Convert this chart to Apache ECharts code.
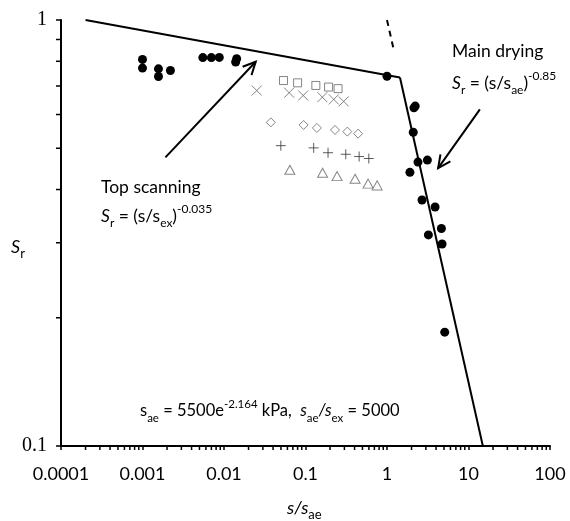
<!DOCTYPE html>
<html>
<head>
<meta charset="utf-8">
<script src="https://cdn.jsdelivr.net/npm/echarts@6/dist/echarts.min.js"></script>
<style>
html,body{margin:0;padding:0;background:#fff;}
#c{width:570px;height:521px;}
</style>
</head>
<body>
<div id="c"></div>
<script>
// ---- data ----
var xTickLabels = ['0.0001', '0.001', '0.01', '0.1', '1', '10', '100'];
var yTickLabels = ['0.1', '1'];

var dotsX = [0.001, 0.001, 0.00157, 0.00157, 0.0022, 0.0055, 0.0070, 0.00875, 0.0143, 0.0139,
             1.0, 2.14, 2.22, 2.10, 2.40, 3.13, 1.91, 2.69, 3.89, 4.65, 3.22, 4.74, 5.11];
var dotsY = [0.808, 0.771, 0.768, 0.737, 0.761, 0.816, 0.816, 0.817, 0.811, 0.797,
             0.738, 0.622, 0.628, 0.545, 0.464, 0.469, 0.439, 0.378, 0.364, 0.324, 0.313, 0.298, 0.185];

var squaresX = [0.0537, 0.080, 0.134, 0.192, 0.251];
var squaresY = [0.721, 0.712, 0.702, 0.696, 0.690];
var crossesX = [0.0252, 0.063, 0.0937, 0.161, 0.222, 0.294];
var crossesY = [0.683, 0.675, 0.665, 0.659, 0.651, 0.644];
var diamondsX = [0.0375, 0.0948, 0.138, 0.230, 0.326, 0.442];
var diamondsY = [0.575, 0.567, 0.558, 0.552, 0.547, 0.541];
var plusesX = [0.0498, 0.126, 0.189, 0.312, 0.455, 0.598];
var plusesY = [0.507, 0.501, 0.488, 0.484, 0.478, 0.473];
var trianglesX = [0.0643, 0.162, 0.244, 0.406, 0.586, 0.757];
var trianglesY = [0.445, 0.438, 0.430, 0.424, 0.413, 0.409];

var topScanX = [0.0002, 1.442];
var topScanY = [1.0, 0.733];
var mainDryX = [1.442, 15.0];
var mainDryY = [0.733, 0.1];
var mainDryDashX = [1.0, 1.22];
var mainDryDashY = [1.0, 0.845];

var minorMult = [2, 3, 4, 5, 6, 7, 8, 9];
var xDecades = [0.0001, 0.001, 0.01, 0.1, 1, 10];
var yDecades = [0.1];

// arrows in data coordinates (tail -> head)
var arrowTopX = [0.00191, 0.0245];
var arrowTopY = [0.476, 0.798];
var arrowMainX = [13.8, 4.24];
var arrowMainY = [0.617, 0.449];

function zip(xs, ys) { return xs.map(function (x, i) { return [x, ys[i]]; }); }

var xMinor = [];
xDecades.forEach(function (d) { minorMult.forEach(function (m) { xMinor.push([+(d * m).toPrecision(3), 0.1]); }); });
var yMinor = [];
yDecades.forEach(function (d) { minorMult.forEach(function (m) { yMinor.push([0.0001, +(d * m).toPrecision(3)]); }); });

var sansFont = 'Lato';
var markerGray = '#666666';

var chart = echarts.init(document.getElementById('c'), null, {renderer: 'canvas'});

function plusPath() { return 'path://M5,0L5,10M0,5L10,5'; }

var option = {
  animation: false,
  backgroundColor: '#ffffff',
  grid: {left: 61, right: 20, top: 20, bottom: 75, containLabel: false},
  xAxis: {
    type: 'log', logBase: 10, min: 0.0001, max: 100,
    axisLine: {show: true, lineStyle: {color: '#000', width: 2}},
    axisTick: {show: true, inside: false, length: 4, lineStyle: {color: '#000', width: 1.5}},
    axisLabel: {
      margin: 19, color: '#000', fontFamily: sansFont, fontSize: 18,
      formatter: function (v, i) { return xTickLabels[i]; }
    },
    splitLine: {show: false},
    minorTick: {show: false}
  },
  yAxis: {
    type: 'log', logBase: 10, min: 0.1, max: 1,
    axisLine: {show: true, lineStyle: {color: '#000', width: 2}},
    axisTick: {show: true, inside: false, length: 5, lineStyle: {color: '#000', width: 1.5}},
    axisLabel: {
      margin: 14, color: '#000', fontFamily: 'Liberation Serif', fontSize: 20,
      formatter: function (v, i) { return yTickLabels[i]; }
    },
    splitLine: {show: false}
  },
  series: [
    {
      type: 'custom', name: 'xMinorTicks', silent: true, clip: false, z: 1,
      renderItem: function (params, api) {
        var p = api.coord([api.value(0), api.value(1)]);
        return {type: 'line', shape: {x1: p[0], y1: p[1], x2: p[0], y2: p[1] + 4},
                style: {stroke: '#000', lineWidth: 1.5}};
      },
      data: xMinor
    },
    {
      type: 'custom', name: 'yMinorTicks', silent: true, clip: false, z: 1,
      renderItem: function (params, api) {
        var p = api.coord([api.value(0), api.value(1)]);
        return {type: 'line', shape: {x1: p[0] - 5, y1: p[1], x2: p[0], y2: p[1]},
                style: {stroke: '#000', lineWidth: 1.5}};
      },
      data: yMinor
    },
    {
      type: 'line', name: 'Top scanning', data: zip(topScanX, topScanY), symbol: 'none',
      lineStyle: {color: '#000', width: 2}, z: 3
    },
    {
      type: 'line', name: 'Main drying', data: zip(mainDryX, mainDryY), symbol: 'none',
      lineStyle: {color: '#000', width: 2}, z: 3, clip: true
    },
    {
      type: 'line', name: 'Main drying ext', data: zip(mainDryDashX, mainDryDashY), symbol: 'none',
      lineStyle: {color: '#000', width: 2, type: [6, 5]}, z: 3
    },
    {
      type: 'scatter', name: 'squares', data: zip(squaresX, squaresY), symbol: 'rect', symbolSize: 8,
      itemStyle: {color: '#fff', borderColor: markerGray, borderWidth: 1}, z: 4
    },
    {
      type: 'scatter', name: 'crosses', data: zip(crossesX, crossesY),
      symbol: 'path://M0,0L10,10M10,0L0,10', symbolSize: 10,
      itemStyle: {color: 'none', borderColor: markerGray, borderWidth: 1}, z: 4
    },
    {
      type: 'scatter', name: 'diamonds', data: zip(diamondsX, diamondsY), symbol: 'diamond', symbolSize: [9, 9],
      itemStyle: {color: '#fff', borderColor: markerGray, borderWidth: 1}, z: 4
    },
    {
      type: 'scatter', name: 'pluses', data: zip(plusesX, plusesY), symbol: plusPath(), symbolSize: 10,
      itemStyle: {color: 'none', borderColor: '#333', borderWidth: 1}, z: 4
    },
    {
      type: 'scatter', name: 'triangles', data: zip(trianglesX, trianglesY), symbol: 'triangle', symbolSize: [10, 9],
      itemStyle: {color: '#fff', borderColor: markerGray, borderWidth: 1}, z: 4
    },
    {
      type: 'scatter', name: 'measured', data: zip(dotsX, dotsY), symbol: 'circle', symbolSize: 9,
      itemStyle: {color: '#000', opacity: 1}, z: 5
    }
  ]
};
chart.setOption(option);

function arrowGraphic(xs, ys) {
  var t = chart.convertToPixel({gridIndex: 0}, [xs[0], ys[0]]);
  var h = chart.convertToPixel({gridIndex: 0}, [xs[1], ys[1]]);
  var ang = Math.atan2(h[1] - t[1], h[0] - t[0]);
  var L = 14, a = 0.45;
  var p1 = [h[0] - L * Math.cos(ang - a), h[1] - L * Math.sin(ang - a)];
  var p2 = [h[0] - L * Math.cos(ang + a), h[1] - L * Math.sin(ang + a)];
  return [
    {type: 'line', shape: {x1: t[0], y1: t[1], x2: h[0], y2: h[1]}, style: {stroke: '#000', lineWidth: 2}},
    {type: 'polyline', shape: {points: [p1, h, p2]}, style: {stroke: '#000', lineWidth: 2, fill: null}}
  ];
}

function makeRich(fs, ss) {
  return {
    n: {fontFamily: sansFont, fontSize: fs, color: '#000', lineHeight: 26},
    i: {fontFamily: sansFont, fontSize: fs, fontStyle: 'italic', color: '#000', lineHeight: 26},
    sub: {fontFamily: sansFont, fontSize: ss, color: '#000', lineHeight: 13, verticalAlign: 'bottom'},
    sup: {fontFamily: sansFont, fontSize: ss, color: '#000', lineHeight: 14, verticalAlign: 'top'}
  };
}
var rich = makeRich(17.5, 12);
var richBottom = makeRich(16.5, 11.5);
var richBig = makeRich(18, 13);

function txt(x, y, text, r) {
  return {type: 'text', x: x, y: y, style: {text: text, rich: r || rich, verticalAlign: 'middle', align: 'left',
          font: '16px ' + sansFont, fill: '#000'}};
}

var g = [];
g = g.concat(arrowGraphic(arrowTopX, arrowTopY));
g = g.concat(arrowGraphic(arrowMainX, arrowMainY));
g.push(txt(101, 187, '{n|Top scanning}'));
g.push(txt(101, 216, '{i|S}{sub|r}{n| = (s/s}{sub|ex}{n|)}{sup|-0.035}'));
g.push(txt(452, 51, '{n|Main drying}'));
g.push(txt(452, 83, '{i|S}{sub|r}{n| = (s/s}{sub|ae}{n|)}{sup|-0.85}'));
g.push(txt(140, 411, '{n|s}{sub|ae}{n| = 5500e}{sup|-2.164}{n| kPa,  }{i|s}{sub|ae}{i|/s}{sub|ex}{n| = 5000}', richBottom));
g.push(txt(11, 247, '{i|S}{sub|r}', richBig));
g.push(txt(287, 508, '{i|s/s}{sub|ae}', richBig));

chart.setOption({graphic: g});
</script>
</body>
</html>
